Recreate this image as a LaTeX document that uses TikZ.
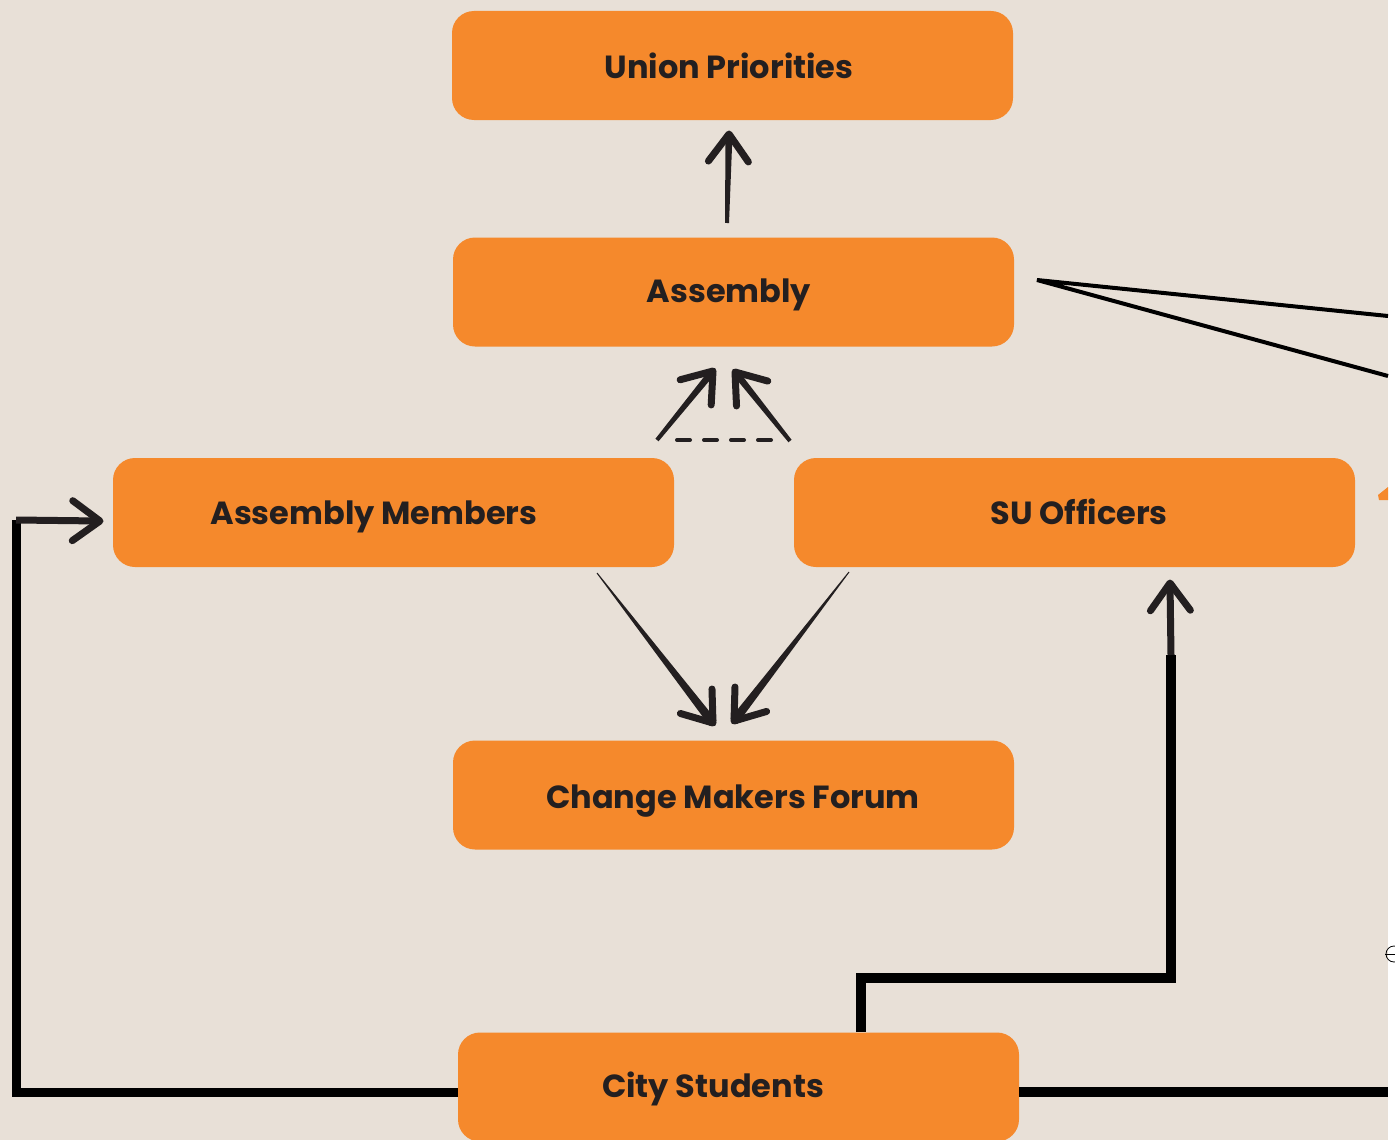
\documentclass[tikz,border=0pt]{standalone}
\usepackage{fontspec}
\setmainfont{Poppins}
\usetikzlibrary{calc}
\definecolor{paper}{HTML}{E8E0D7}
\definecolor{boxorange}{HTML}{F5892C}
\definecolor{ink}{HTML}{231F20}
\tikzset{
  box/.style={fill=boxorange, rounded corners=22pt, minimum width=561pt, minimum height=109pt, inner sep=0pt},
  lbl/.style={text=ink, font=\bfseries\fontsize{32}{32}\selectfont, inner sep=0pt, anchor=base},
  rail/.style={draw=black, line width=9pt},
  thick rail/.style={draw=black, line width=10pt},
  thin rail/.style={draw=black, line width=4pt},
  chevron/.style={draw=ink, line width=7pt, line cap=round, line join=round},
}
% tapered hand-drawn shaft from #1 to #2 (half widths #3 at start, #4 at tip), then an open chevron at #2
\newcommand\handarrow[4]{%
  \fill[ink] ($(#1)!#3!90:(#2)$) -- ($(#1)!#3!-90:(#2)$) -- ($(#2)!#4!90:(#1)$) -- ($(#2)!#4!-90:(#1)$) -- cycle;
  \draw[chevron] ($(#2)!34pt!36:(#1)$) -- (#2) -- ($(#2)!34pt!-36:(#1)$);
}
\begin{document}
\begin{tikzpicture}[x=1pt, y=-1pt]
  \useasboundingbox (0,0) rectangle (1395,1140);
  \fill[white] (0,0) rectangle (1395,1140);
  \fill[paper] (0,0) rectangle (1388,1140);

  % boxes
  \node[box] (up)  at (732.5, 65.5) {};
  \node[box] (asm) at (733.5, 292) {};
  \node[box] (am)  at (393.5, 512.5) {};
  \node[box] (suo) at (1074.5, 512.5) {};
  \node[box] (cmf) at (733.5, 795) {};
  \node[box] (cs)  at (738.5, 1087) {};

  % labels (placed on their baselines)
  \node[lbl] (up-t)  at (729, 78) {Union Priorities};
  \node[lbl] (asm-t) at (729, 302) {Assembly};
  \node[lbl] (am-t)  at (374, 524) {Assembly Members};
  \node[lbl] (suo-t) at (1079, 524) {SU Officers};
  \node[lbl] (cmf-t) at (733, 808) {Change Makers Forum};
  \node[lbl] (cs-t)  at (713, 1097) {City Students};

  % Assembly -> Union Priorities
  \coordinate (a1s) at (727,223);
  \coordinate (a1e) at (729,134);
  \handarrow{a1s}{a1e}{2pt}{3.5pt}

  % shared arrows up to Assembly, with a dashed base
  \coordinate (a2s) at (657,440);
  \coordinate (a2e) at (713,371);
  \coordinate (a3s) at (790,441);
  \coordinate (a3e) at (735,372);
  \handarrow{a2s}{a2e}{2pt}{3.5pt}
  \handarrow{a3s}{a3e}{2pt}{3.5pt}
  \coordinate (d1) at (677,440);
  \coordinate (d2) at (771,440);
  \draw[ink, line width=4pt, dash pattern=on 13pt off 14pt, line cap=round] (d1) -- (d2);

  % Assembly Members / SU Officers -> Change Makers Forum
  \coordinate (a4s) at (597,573);
  \coordinate (a4e) at (713,723);
  \coordinate (a5s) at (849,572);
  \coordinate (a5e) at (734,721);
  \handarrow{a4s}{a4e}{0.5pt}{4.5pt}
  \handarrow{a5s}{a5e}{0.5pt}{4.5pt}

  % Assembly -> off to the right
  \coordinate (asmx) at (1037,280);
  \coordinate (r1) at (1388,316);
  \coordinate (r2) at (1388,376);
  \draw[thin rail] (r1) -- (asmx) -- (r2);

  % City Students -> Assembly Members
  \coordinate (c1) at (16,520);
  \coordinate (c1e) at (100,521);
  \draw[rail] (cs.west |- 0,1092) -- (16,1092) -- (c1);
  \handarrow{c1}{c1e}{3.5pt}{3.5pt}

  % City Students -> SU Officers
  \coordinate (c2) at (1171,655);
  \coordinate (c2e) at (1170,583);
  \draw[thick rail] (861,1032) -- (861,978) -- (1171,978) -- (c2);
  \handarrow{c2}{c2e}{3.5pt}{3.5pt}

  % City Students -> off to the right
  \coordinate (r3) at (1388,1092);
  \draw[thick rail] (cs.east |- 0,1092) -- (r3);

  % partial marks at the right edge
  \fill[boxorange] (1378,495) -- (1388,487) -- (1388,500) -- (1379,500) -- cycle;
  \draw[black, line width=0.8pt] (1394,954) circle (8pt);
  \draw[black, line width=0.8pt] (1385,954) -- (1395,954);
\end{tikzpicture}
\end{document}
